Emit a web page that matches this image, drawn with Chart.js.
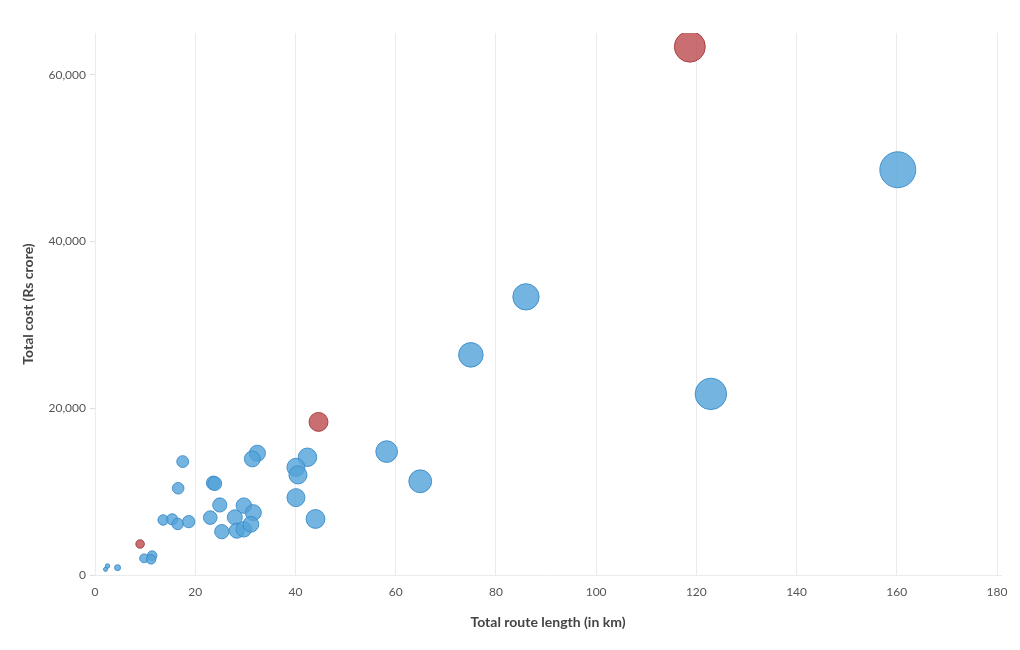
<!DOCTYPE html>
<html>
<head>
<meta charset="utf-8">
<script src="https://cdn.jsdelivr.net/npm/chart.js@4.4.1/dist/chart.umd.min.js"></script>
<style>
  html, body { margin: 0; padding: 0; background: #fff; }
  #wrap { width: 1020px; height: 650px; }
</style>
</head>
<body>
<div id="wrap"><canvas id="chart"></canvas></div>
<script>
// route length (km) vs total cost (Rs crore)
const blueLength = [160.2, 86.0, 75.0, 122.9, 58.2, 64.9, 44.0, 42.4, 40.1, 40.5, 40.1, 32.4, 31.4, 23.6, 23.9,
  17.5, 16.6, 24.9, 29.7, 31.6, 27.9, 23.0, 25.3, 28.3, 29.7, 31.1, 13.6, 15.4, 16.5, 18.7, 9.8, 11.4, 11.2, 4.5, 2.5, 2.1];
const blueCost = [48600, 33360, 26400, 21720, 14800, 11240, 6720, 14120, 12920, 12000, 9280, 14600, 13920, 11040, 10960,
  13600, 10400, 8400, 8320, 7480, 6920, 6880, 5200, 5320, 5480, 6080, 6600, 6680, 6120, 6400, 2000, 2320, 1880, 880, 1080, 680];
const redLength = [118.7, 44.6, 9.0];
const redCost = [63360, 18360, 3720];

const xTicks = [0, 20, 40, 60, 80, 100, 120, 140, 160, 180];
const yTicks = [0, 20000, 40000, 60000];

const xTitle = 'Total route length (in km)';
const yTitle = 'Total cost (Rs crore)';

const toPoints = (xs, ys) => xs.map((x, i) => ({ x: x, y: ys[i] }));
const bubbleSize = ctx => 1.42 * Math.sqrt(ctx.raw ? ctx.raw.x : 1);

const font = "Lato, 'Open Sans', sans-serif";

new Chart(document.getElementById('chart').getContext('2d'), {
  type: 'bubble',
  data: {
    datasets: [{
      label: 'Blue',
      data: toPoints(blueLength, blueCost),
      backgroundColor: 'rgba(84,163,219,0.82)',
      borderColor: 'rgba(60,140,200,0.9)',
      borderWidth: 1,
      radius: bubbleSize
    }, {
      label: 'Red',
      data: toPoints(redLength, redCost),
      backgroundColor: 'rgba(189,78,82,0.82)',
      borderColor: 'rgba(170,55,60,0.9)',
      borderWidth: 1,
      radius: bubbleSize
    }]
  },
  options: {
    responsive: true,
    maintainAspectRatio: false,
    animation: false,
    layout: { padding: { left: 16, right: 10, top: 33, bottom: 15 } },
    plugins: { legend: { display: false }, tooltip: { enabled: false } },
    scales: {
      x: {
        type: 'linear',
        min: 0,
        max: 180.8,
        afterFit: s => { s.height = 60; },
        afterBuildTicks: s => { s.ticks = xTicks.map(v => ({ value: v })); },
        grid: { color: '#ebebeb', drawTicks: false },
        border: { color: '#ebebeb' },
        ticks: {
          padding: 10,
          maxRotation: 0,
          color: '#555',
          font: { family: font, size: 12 }
        },
        title: {
          display: true,
          text: xTitle,
          color: '#444',
          padding: { top: 9 },
          font: { family: font, size: 14, weight: 'bold' }
        }
      },
      y: {
        min: 0,
        max: 65000,
        afterFit: s => { s.width = 79; },
        afterBuildTicks: s => { s.ticks = yTicks.map(v => ({ value: v })); },
        grid: { drawOnChartArea: false, drawTicks: true, tickLength: 5, color: '#dddddd' },
        border: { display: false },
        ticks: {
          padding: 4,
          color: '#555',
          font: { family: font, size: 12 },
          callback: v => v.toLocaleString('en-US')
        },
        title: {
          display: true,
          text: yTitle,
          color: '#444',
          font: { family: font, size: 14, weight: 'bold' }
        }
      }
    }
  }
});
</script>
</body>
</html>
